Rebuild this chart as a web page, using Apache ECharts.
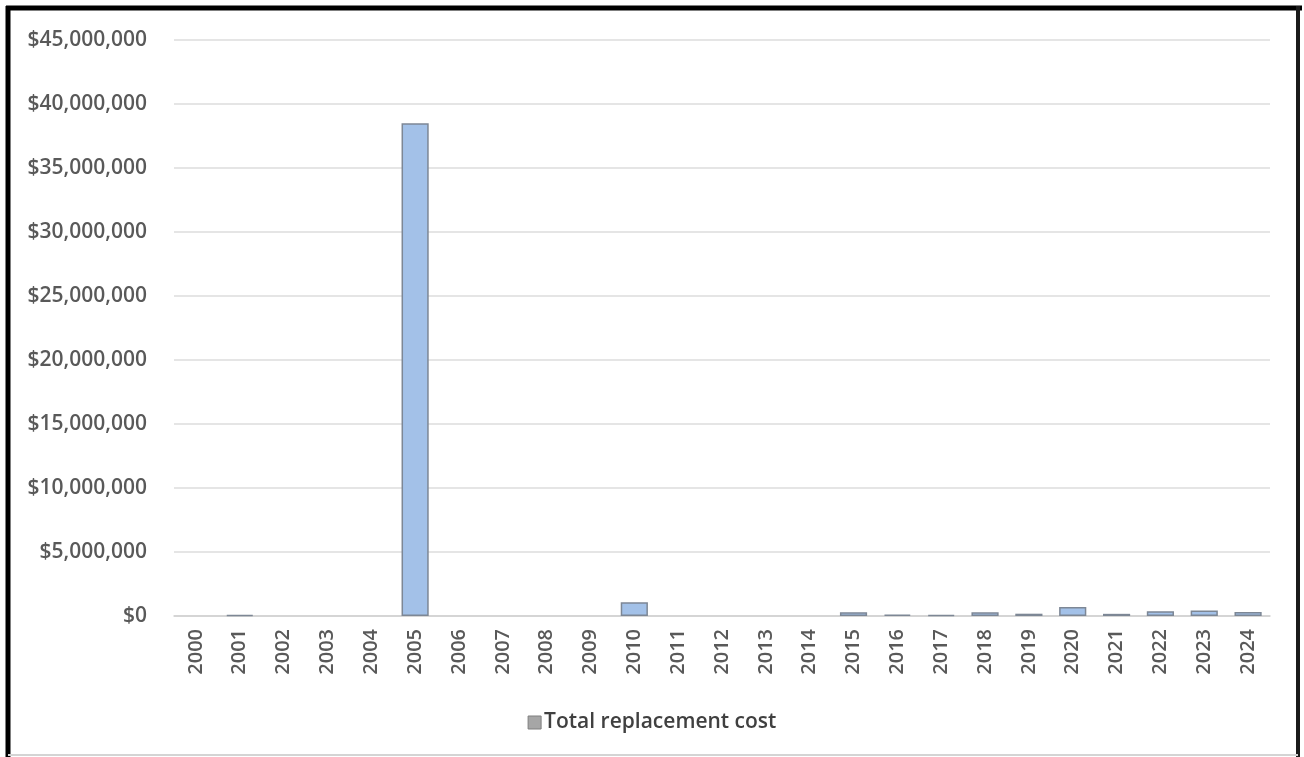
<!DOCTYPE html>
<html>
<head>
<meta charset="utf-8">
<title>Total replacement cost by year</title>
<script src="https://cdn.jsdelivr.net/npm/echarts@6/dist/echarts.min.js"></script>
<style>
  html, body { margin: 0; padding: 0; background: #ffffff; }
  #chart { width: 1304px; height: 757px; }
</style>
</head>
<body>
<div id="chart"></div>
<script>
// Years on the category axis
const years = ['2000','2001','2002','2003','2004','2005','2006','2007','2008','2009',
  '2010','2011','2012','2013','2014','2015','2016','2017','2018','2019',
  '2020','2021','2022','2023','2024'];

// Total replacement cost per year (USD)
const replacementCost = [0, 90000, 0, 0, 0, 38500000, 0, 0, 0, 0,
  1080000, 0, 0, 0, 0, 300000, 110000, 90000, 290000, 180000,
  700000, 170000, 380000, 420000, 320000];

const seriesName = 'Total replacement cost';

// Value axis range and step
const yMin = 0;
const yMax = 45000000;
const yStep = 5000000;

const labelFont = '"Open Sans", "Liberation Sans", sans-serif';

function formatDollars(v) {
  return '$' + Math.round(v).toString().replace(/\B(?=(\d{3})+(?!\d))/g, ',');
}

// Years with no cost get no bar at all (not even an outline)
const barData = replacementCost.map(v => (v === 0 ? '-' : v));

const chart = echarts.init(document.getElementById('chart'), null, { renderer: 'canvas' });

chart.setOption({
  backgroundColor: '#ffffff',
  animation: false,
  grid: { left: 174, right: 34, top: 40, bottom: 141, containLabel: false },
  legend: {
    bottom: 19,
    left: 'center',
    itemWidth: 13,
    itemHeight: 13,
    itemGap: 10,
    icon: 'rect',
    itemStyle: { color: '#a6a6a6', borderColor: '#7f7f7f', borderWidth: 1 },
    textStyle: { color: '#404040', fontSize: 21, fontWeight: 600, fontFamily: labelFont, padding: [0, 0, 0, -2] },
    data: [seriesName]
  },
  xAxis: {
    type: 'category',
    data: years,
    axisTick: { show: false },
    axisLine: { show: true, lineStyle: { color: '#d0d0d0', width: 1.5 } },
    axisLabel: {
      rotate: 90,
      margin: 13,
      color: '#595959',
      fontSize: 20,
      fontWeight: 600,
      fontFamily: labelFont,
      interval: 0
    }
  },
  yAxis: {
    type: 'value',
    min: yMin,
    max: yMax,
    interval: yStep,
    axisLine: { show: false },
    axisTick: { show: false },
    splitLine: { lineStyle: { color: '#dcdcdc', width: 1.5 } },
    axisLabel: {
      margin: 27,
      color: '#595959',
      fontSize: 21,
      fontWeight: 600,
      fontFamily: labelFont,
      formatter: formatDollars
    }
  },
  series: [{
    name: seriesName,
    type: 'bar',
    data: barData,
    barCategoryGap: '38%',
    itemStyle: { color: '#a3c1e8', borderColor: '#7d8795', borderWidth: 1.5 }
  }],
  graphic: [
    // outer frame
    { type: 'line', shape: { x1: 6, y1: 8, x2: 1302, y2: 8 }, style: { stroke: '#000000', lineWidth: 5 } },
    { type: 'line', shape: { x1: 8, y1: 6, x2: 8, y2: 757 }, style: { stroke: '#000000', lineWidth: 5 } },
    { type: 'line', shape: { x1: 1298, y1: 6, x2: 1298, y2: 757 }, style: { stroke: '#1a1a1a', lineWidth: 4 } },
    { type: 'line', shape: { x1: 8, y1: 755, x2: 1298, y2: 755 }, style: { stroke: '#d4d4d4', lineWidth: 2 } }
  ]
});
</script>
</body>
</html>
